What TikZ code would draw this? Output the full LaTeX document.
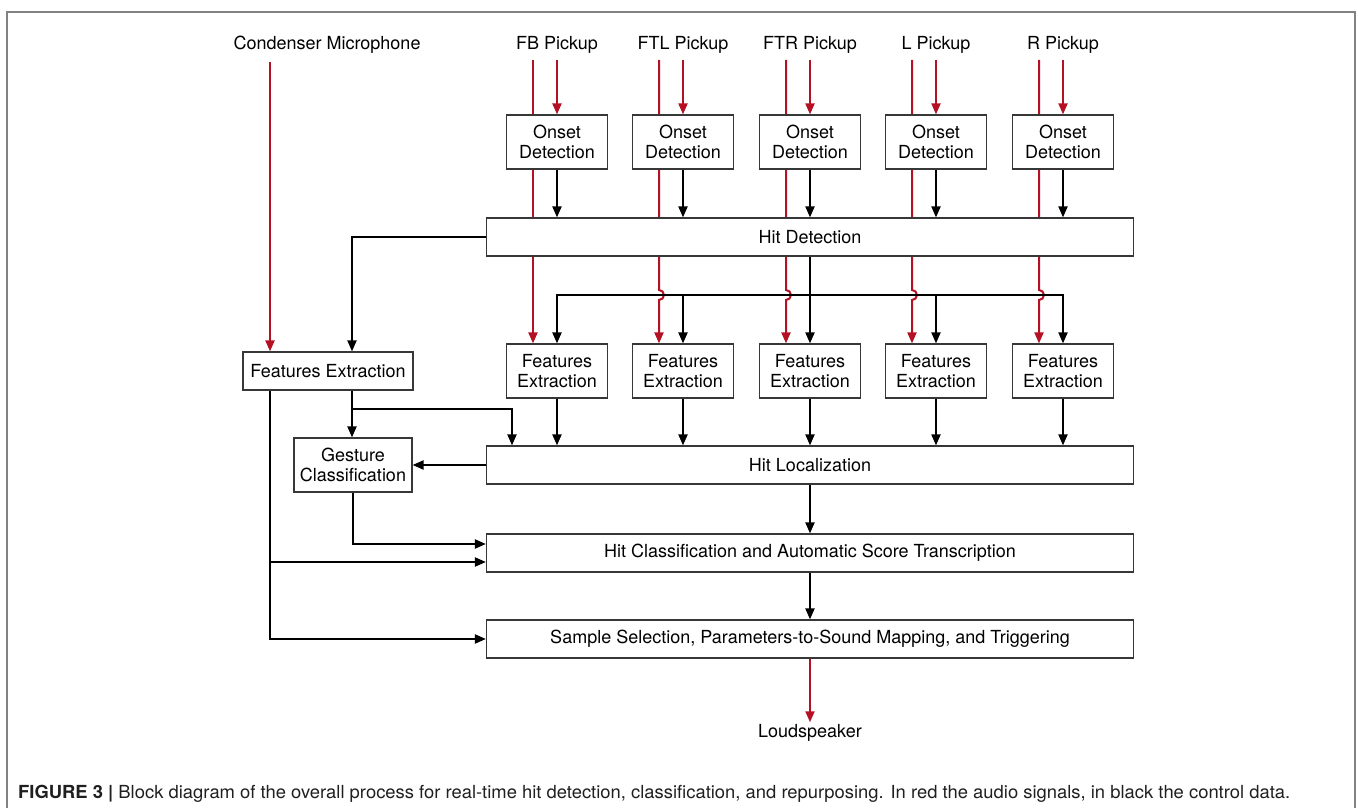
\documentclass[tikz,border=0pt]{standalone}
\usepackage{fontspec}
\setmainfont{TeX Gyre Heros}
\usepackage{graphicx}
\usetikzlibrary{arrows.meta,calc,backgrounds}
\definecolor{audio}{RGB}{180,18,36}
\definecolor{boxc}{RGB}{55,55,55}
\definecolor{framec}{RGB}{130,130,130}
\newcommand{\fsz}{\fontsize{18}{20.5}\selectfont}
\tikzset{
  x=1pt, y=-1pt,
  box/.style={draw=boxc, fill=white, line width=1.2pt, inner sep=0pt, align=center, font=\fsz},
  smallbox/.style={box, minimum width=101pt, minimum height=54pt},
  widebox/.style={box, minimum width=647pt, minimum height=38pt},
  lbl/.style={font=\fsz, inner sep=2pt},
  ctrl/.style={draw=black, line width=2pt},
  sig/.style={draw=audio, line width=2pt},
  tip/.tip={Triangle[length=11pt,width=9pt]}
}
\begin{document}
\begin{tikzpicture}
\useasboundingbox (0,0) rectangle (1358,808);
% frame
\draw[framec, line width=1.5pt] (7,810) -- (7,12) -- (1355,12) -- (1355,810);

% labels
\node[lbl] (mic) at (327,45) {Condenser Microphone};
\coordinate (mictop) at (270,62);
\coordinate (bus) at (0,295);
\coordinate (hlin) at (512,0);

\foreach \i/\nm/\x in {1/FB/557,2/FTL/683,3/FTR/810,4/L/936,5/R/1063}{
  \node[lbl] (p\i) at (\x,45) {\nm\ Pickup};
  \coordinate (rt\i) at ({\x-24},60);
  \node[smallbox] (o\i) at (\x,142) {Onset\\Detection};
  \node[smallbox] (fe\i) at (\x,371) {Features\\Extraction};
}

\node[widebox] (hd) at (810,237) {Hit Detection};
\node[box, minimum width=170pt, minimum height=38pt] (fem) at (328,371) {Features Extraction};
\node[box, minimum width=118pt, minimum height=54pt] (gc) at (353,465) {Gesture\\Classification};
\node[widebox] (hl) at (810,465) {Hit Localization};
\node[widebox] (hc) at (810,553) {Hit Classification and Automatic Score Transcription};
\node[widebox] (ss) at (810,639) {Sample Selection, Parameters-to-Sound Mapping, and Triggering};
\node[lbl] (ls) at (810,733) {Loudspeaker};

% audio lines behind the boxes
\begin{pgfonlayer}{background}
  \draw[sig,-tip] (rt1) -- (rt1 |- fe1.north);
  \foreach \i in {2,3,4,5}{
    \draw[sig,-tip] (rt\i) -- ($(rt\i |- bus)+(0,-5)$)
      arc[start angle=90, end angle=-90, radius=5pt] -- (rt\i |- fe\i.north);
  }
\end{pgfonlayer}

% audio into onset detection
\foreach \i in {1,...,5}{
  \draw[sig,-tip] (o\i.north |- rt\i) -- (o\i.north);
  \draw[ctrl,-tip] (o\i.south) -- (o\i.south |- hd.north);
  \draw[ctrl,-tip] (fe\i.south) -- (fe\i.south |- hl.north);
}

% condenser microphone
\draw[sig,-tip] (mictop) -- (mictop |- fem.north);

% hit detection outputs
\draw[ctrl,-tip] (hd.west) -| ($(fem.north)+(24,0)$);
\draw[ctrl,-tip] (hd.south -| fe3.north) -- (fe3.north);
\draw[ctrl,tip-tip] (fe1.north) |- (fe5.north |- bus) -- (fe5.north);
\foreach \i in {2,4}{
  \draw[ctrl,-tip] (fe\i.north |- bus) -- (fe\i.north);
}

% microphone features
\coordinate (fr) at ($(fem.south)+(24,0)$);
\coordinate (br) at ($(fr)+(0,18)$);
\draw[ctrl,-tip] (fr) -- (fr |- gc.north);
\draw[ctrl,-tip] (br) -| (hlin |- hl.north);
\coordinate (fl) at (fem.south -| mictop);
\coordinate (hcb) at ($(hc.west)+(0,9)$);
\coordinate (hct) at ($(hc.west)+(0,-9)$);
\draw[ctrl,-tip] (fl) |- (ss.west);
\draw[ctrl,-tip] (fl |- hcb) -- (hcb);

% gesture classification
\draw[ctrl,-tip] (hl.west) -- (gc.east);
\draw[ctrl,-tip] (gc.south) |- (hct);

% main chain
\draw[ctrl,-tip] (hl.south) -- (hc.north);
\draw[ctrl,-tip] (hc.south) -- (ss.north);
\draw[sig,-tip] (ss.south) -- (ls.north);

% caption
\node[anchor=west, inner sep=0pt, text=black!88] (cap) at (18,794)
  {\resizebox{1272pt}{\height}{\fontsize{18}{20}\selectfont\textbf{FIGURE 3 |} Block diagram of the overall process for real-time hit detection, classification, and repurposing. In red the audio signals, in black the control data.}};
\end{tikzpicture}
\end{document}
